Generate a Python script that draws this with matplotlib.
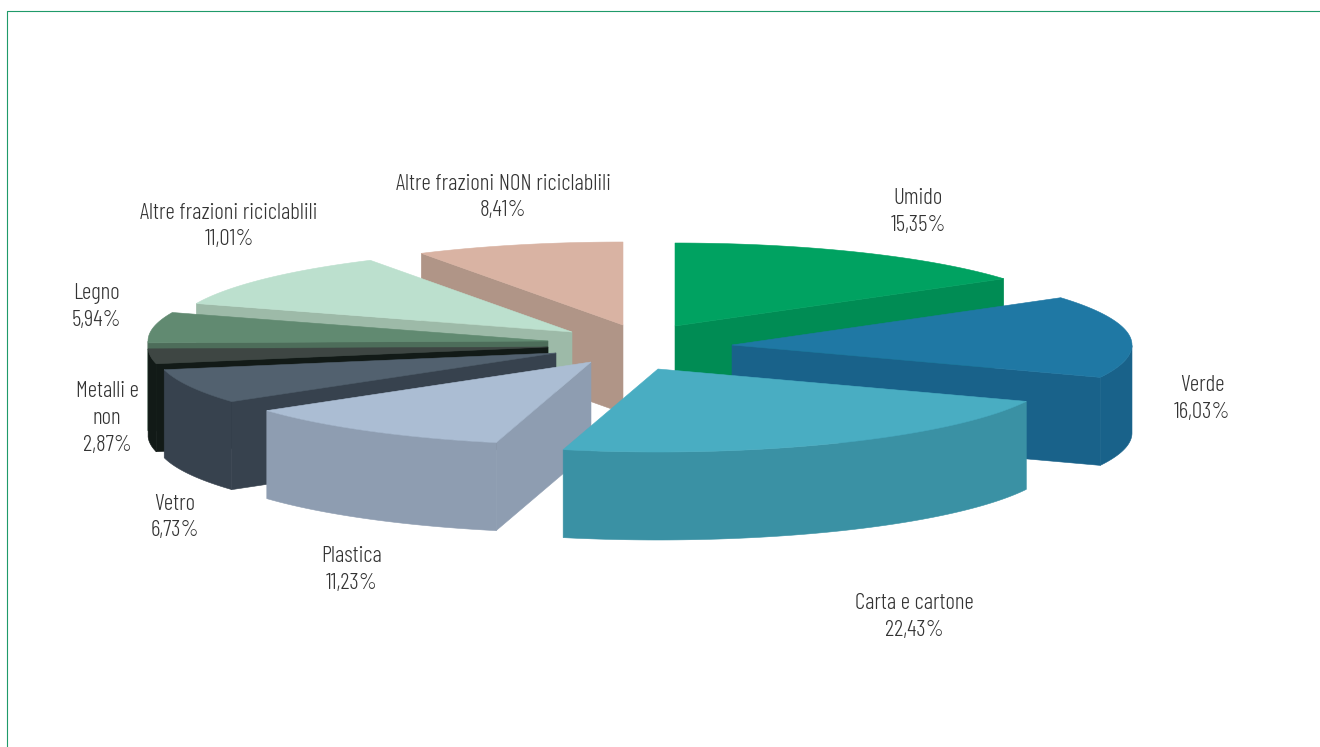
"""Exploded 3D-look pie of waste fractions, drawn from flat polygons."""
import numpy as np
import matplotlib.pyplot as plt
from matplotlib.patches import Polygon

plt.rcParams["font.family"] = ["Barlow Condensed", "Asap Condensed",
                               "Liberation Sans Narrow", "Liberation Sans", "DejaVu Sans"]

# ── Data ─────────────────────────────────────────────────────────────────────
LABELS = ["Umido", "Verde", "Carta e cartone", "Plastica", "Vetro",
          "Metalli e\nnon", "Legno", "Altre frazioni riciclablili",
          "Altre frazioni NON riciclablili"]
VALUES = [15.35, 16.03, 22.43, 11.23, 6.73, 2.87, 5.94, 11.01, 8.41]

# ── Style ────────────────────────────────────────────────────────────────────
TOP_COLS = ["#00A261", "#1F78A4", "#49ADC2", "#ABBDD3", "#52616F",
            "#3E4643", "#618A71", "#BCE0CE", "#D9B3A3"]
SIDE_COLS = ["#008C54", "#19628A", "#3A91A4", "#8E9DB1", "#37424E",
             "#121A17", "#4D6D5A", "#9DBAA8", "#B09587"]
TEXT_COL = "#333333"
FRAME_COL = "#1F9A6A"

# ── Layout (pixels) ──────────────────────────────────────────────────────────
W, H = 1320, 747
RX, RY = 400, 83     # ellipse semi-axes
DEPTH = 88
CX, CY = 640, 347    # pie centre before explosion
# how far each wedge is pulled from the centre
EXPLODE_X = [35, 92, 18, -49, -84, -92, -92, -68, -17]
EXPLODE_Y = [-21, -2, 22, 15, 6, 0, -6, -15, -22]
# back to front
DRAW_ORDER = [8, 0, 7, 6, 5, 4, 1, 3, 2]
LABEL_POS = [(918, 212), (1202, 399), (914, 617), (352, 570), (175, 517.5),
             (107, 418.5), (96, 307), (229, 226.5), (503, 197.5)]


def rim(theta, apex):
    """Point on the ellipse; theta in degrees, clockwise from the top."""
    t = np.deg2rad(theta)
    return np.column_stack([apex[0] + RX * np.sin(t), apex[1] - RY * np.cos(t)])


def face_visible(apex, p, m):
    # A cut face shows only when the wedge top lies above its upper edge.
    dx = p[0] - apex[0]
    if abs(dx) < 1:
        return False
    line_y = apex[1] + (p[1] - apex[1]) * (m[0] - apex[0]) / dx
    return m[1] < line_y


def draw_wedge(ax, start, end, apex, top, side, z):
    ths = np.linspace(start, end, 80)
    arc = rim(ths, apex)
    mid = rim(np.array([(start + end) / 2]), apex)[0]
    down = np.array([0, DEPTH])

    for p in (arc[0], arc[-1]):
        if face_visible(apex, p, mid):
            pts = [apex, p, p + down, np.array(apex) + down]
            ax.add_patch(Polygon(pts, fc=side, ec=side, lw=0.4, zorder=z))

    # outer wall: only the part of the rim facing the viewer
    front = arc[np.cos(np.deg2rad(ths)) < 0]
    if len(front) > 1:
        pts = np.vstack([front, front[::-1] + down])
        ax.add_patch(Polygon(pts, fc=side, ec=side, lw=0.4, zorder=z))

    pts = np.vstack([[apex], arc])
    ax.add_patch(Polygon(pts, fc=top, ec=top, lw=0.4, zorder=z + 0.5))


def main():
    fig = plt.figure(figsize=(W / 100, H / 100), dpi=100)
    ax = fig.add_axes([0, 0, 1, 1])
    ax.set_xlim(0, W)
    ax.set_ylim(H, 0)
    ax.axis("off")

    # frame: top and left only
    ax.plot([7, 7, W], [H, 11, 11], color=FRAME_COL, lw=0.8, zorder=1)

    edges = np.concatenate([[0], np.cumsum(VALUES)]) / sum(VALUES) * 360
    for rank, i in enumerate(DRAW_ORDER):
        apex = (CX + EXPLODE_X[i], CY + EXPLODE_Y[i])
        draw_wedge(ax, edges[i], edges[i + 1], apex,
                   TOP_COLS[i], SIDE_COLS[i], 2 + rank)

    for lab, val, (x, y) in zip(LABELS, VALUES, LABEL_POS):
        txt = f"{lab}\n{val:.2f}%".replace(".", ",")
        ax.text(x, y, txt, ha="center", va="center", fontsize=16.6, fontweight=300,
                color=TEXT_COL, linespacing=1.36, zorder=20)

    fig.savefig("out.png", dpi=100)


if __name__ == "__main__":
    main()
